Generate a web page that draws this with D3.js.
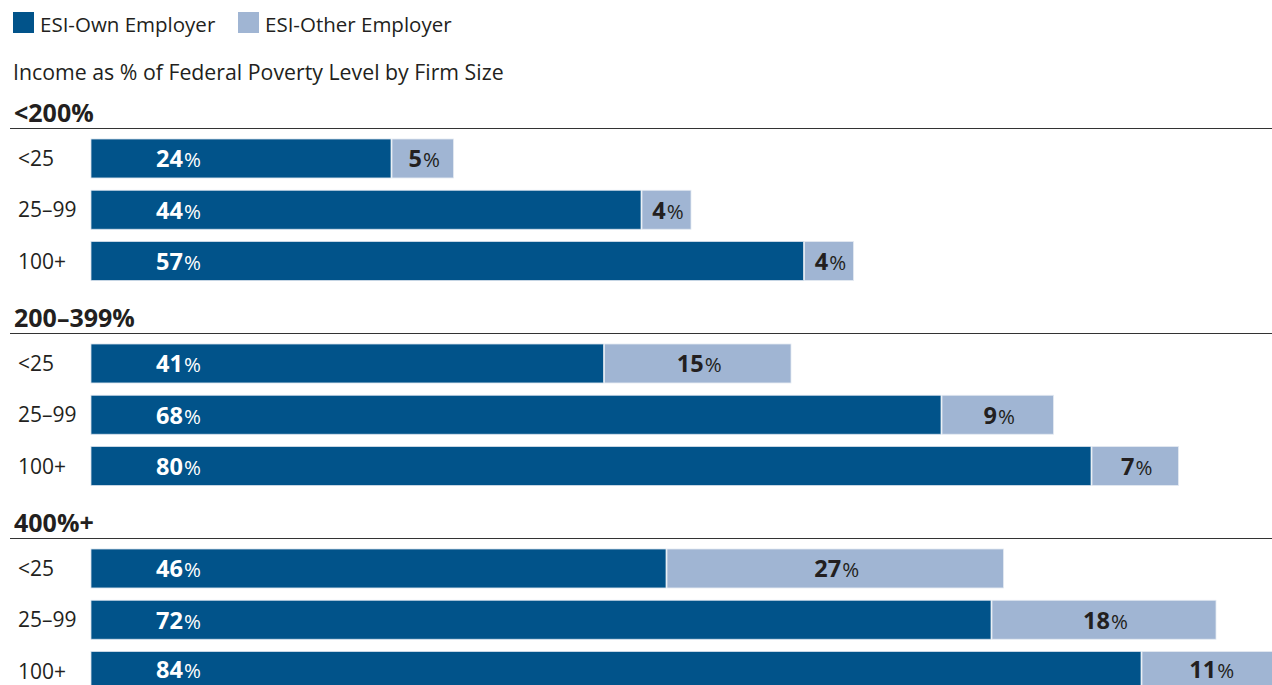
<!DOCTYPE html>
<html>
<head>
<meta charset="utf-8">
<script src="https://cdn.jsdelivr.net/npm/d3@7/dist/d3.min.js"></script>
<style>
  html, body { margin: 0; padding: 0; background: #fff; }
  svg { display: block; font-family: "Open Sans", "Noto Sans", sans-serif; }
</style>
</head>
<body>
<svg id="chart" width="1272" height="685"></svg>
<script>
// Income groups (as % of Federal Poverty Level) and firm-size rows
const incomeGroups = ["<200%", "200–399%", "400%+"];
const firmSizes = ["<25", "25–99", "100+"];

// Share with ESI from own employer, by income group then firm size
const ownEmployer = [
  [24, 44, 57],
  [41, 68, 80],
  [46, 72, 84]
];
// Share with ESI from another employer
const otherEmployer = [
  [5, 4, 4],
  [15, 9, 7],
  [27, 18, 11]
];

const seriesNames = ["ESI-Own Employer", "ESI-Other Employer"];
const subtitle = "Income as % of Federal Poverty Level by Firm Size";

const colors = { own: "#01538a", other: "#a0b5d3", ink: "#231f20" };

const W = 1272, H = 685;
const svg = d3.select("#chart");

// Horizontal value scale (percent)
const x = d3.scaleLinear().domain([0, 100]).range([91, 1341]);

// Group offsets and row bands within a group
const groupY = d3.scalePoint().domain(incomeGroups).range([0, 410]);
const rowY = d3.scaleBand().domain(firmSizes).range([139, 280.5]).paddingInner(0.24);
const h = rowY.bandwidth();

// Legend
const legend = svg.append("g");
const legendX = [13, 238];
seriesNames.forEach((name, i) => {
  const g = legend.append("g").attr("transform", `translate(${legendX[i]},12)`);
  g.append("rect").attr("width", 21).attr("height", 21)
    .attr("fill", i === 0 ? colors.own : colors.other);
  g.append("text").attr("x", 27).attr("y", 19.5)
    .attr("font-size", 20.5).attr("fill", colors.ink).text(name);
});

svg.append("text").attr("x", 13).attr("y", 80)
  .attr("font-size", 21.3).attr("fill", colors.ink).text(subtitle);

// Value-label baseline inside a bar, kept clear of the bottom edge
const labelY = (groupTop, rowTop) =>
  Math.min(rowTop + h / 2 + 9, H - 7 - groupTop) - rowTop;

// One block per income group
incomeGroups.forEach((grp, gi) => {
  const top = groupY(grp);
  const g = svg.append("g").attr("transform", `translate(0,${top})`);

  g.append("text").attr("x", 14).attr("y", 121.5)
    .attr("font-size", 25).attr("font-weight", 700).attr("fill", colors.ink).text(grp);
  g.append("line").attr("x1", 10).attr("x2", W).attr("y1", 128.5).attr("y2", 128.5)
    .attr("stroke", "#333").attr("stroke-width", 1.2);

  const rows = firmSizes.map((s, i) => ({ size: s, own: ownEmployer[gi][i], other: otherEmployer[gi][i] }));

  const row = g.selectAll("g.row").data(rows).join("g").attr("class", "row")
    .attr("transform", d => `translate(0,${rowY(d.size)})`);

  row.append("text").attr("x", 18).attr("y", h / 2 + 7.5)
    .attr("font-size", 21).attr("fill", colors.ink).text(d => d.size);

  row.append("rect")
    .attr("x", x(0)).attr("y", 0)
    .attr("width", d => x(d.own) - x(0)).attr("height", h)
    .attr("fill", colors.own).attr("stroke", "#d6e0ec").attr("stroke-width", 0.8);

  row.append("rect")
    .attr("x", d => x(d.own) + 1).attr("y", 0)
    .attr("width", d => x(d.own + d.other) - x(d.own) - 1).attr("height", h)
    .attr("fill", colors.other).attr("stroke", "#e4eaf2").attr("stroke-width", 0.8);

  const ownLabel = row.append("text").attr("x", 156)
    .attr("y", d => labelY(top, rowY(d.size)))
    .attr("fill", "#fff");
  ownLabel.append("tspan").attr("font-size", 23.5).attr("font-weight", 700).text(d => d.own);
  ownLabel.append("tspan").attr("font-size", 20.5).attr("dx", 1).text("%");

  const otherLabel = row.append("text")
    .attr("x", d => (x(d.own) + x(d.own + d.other)) / 2 + 2)
    .attr("y", d => labelY(top, rowY(d.size)))
    .attr("text-anchor", "middle").attr("fill", colors.ink);
  otherLabel.append("tspan").attr("font-size", 23.5).attr("font-weight", 700).text(d => d.other);
  otherLabel.append("tspan").attr("font-size", 20.5).attr("dx", 1).text("%");
});
</script>
</body>
</html>
